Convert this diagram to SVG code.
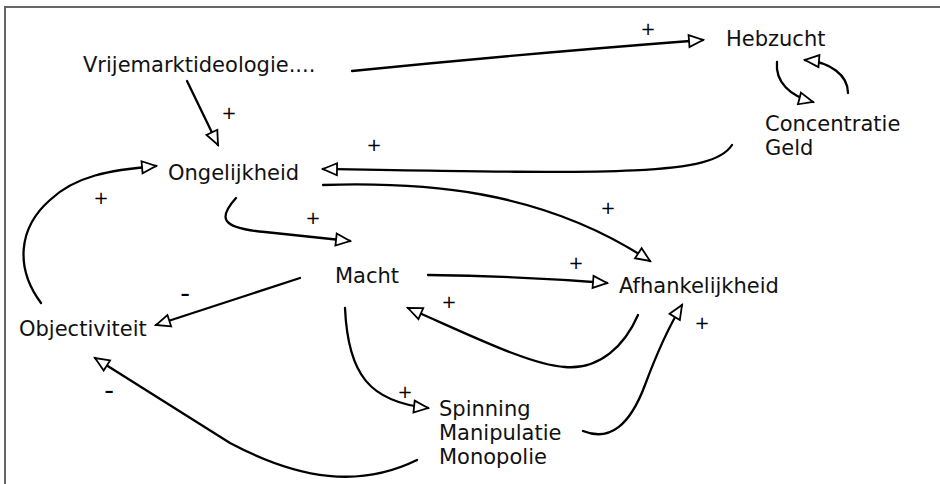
<svg xmlns="http://www.w3.org/2000/svg" width="940" height="484" viewBox="0 0 940 484">
<defs>
<marker id="ah" markerUnits="userSpaceOnUse" markerWidth="18" markerHeight="16" refX="15" refY="7" orient="auto" overflow="visible">
<path d="M1,1 L15,7 L1,13 Z" fill="#fff" stroke="#000" stroke-width="1.8" stroke-linejoin="miter"/>
</marker>
<style>
.lbl{font-family:"DejaVu Sans",Verdana,sans-serif;font-size:21px;fill:#111}
.sg{font-family:"DejaVu Sans",Verdana,sans-serif;font-size:18px;fill:#000;text-anchor:middle}
.mn{font-family:"DejaVu Sans",Verdana,sans-serif;font-size:27px;fill:#000;text-anchor:middle}
.c{fill:none;stroke:#000;stroke-width:2.3;stroke-linecap:round;marker-end:url(#ah)}
</style>
</defs>
<rect width="940" height="484" fill="#fff"/>
<g id="frame" stroke="#666" stroke-width="2" fill="none">
<line x1="4" y1="7" x2="940" y2="7"/>
<line x1="5" y1="7" x2="5" y2="484"/>
</g>
<g id="connectors">
<path class="c" d="M352,71 Q520,54 703,40"/>
<path class="c" d="M187,81 L218,145"/>
<path class="c" d="M732,145 C712,176 620,174 323,169"/>
<path class="c" d="M323,185 C420,182 540,188 650,261"/>
<path class="c" d="M236,198 C218,218 220,228 265,232 L350,241"/>
<path class="c" d="M41,303 C15,268 18,228 50,200 C75,176 110,170 156,166"/>
<path class="c" d="M428,275 Q520,276 607,283"/>
<path class="c" d="M638,315 C625,345 600,370 565,367 C530,365 470,335 408,308"/>
<path class="c" d="M300,278 L156,325"/>
<path class="c" d="M345,308 C348,375 370,402 428,408"/>
<path class="c" d="M417,460 C360,488 300,480 230,443 L95,358"/>
<path class="c" d="M583,431 C610,442 630,425 645,385 C658,350 668,328 682,305"/>
<path class="c" d="M777,62 C775,82 790,96 813,102"/>
<path class="c" d="M848,93 C848,75 830,62 805,60"/>
</g>
<g id="n-vrije"><text class="lbl" x="83" y="72">Vrijemarktideologie....</text></g>
<g id="n-hebzucht"><text class="lbl" x="726" y="46">Hebzucht</text></g>
<g id="n-concentratie"><text class="lbl" x="765" y="131">Concentratie</text><text class="lbl" x="765" y="155">Geld</text></g>
<g id="n-ongelijkheid"><text class="lbl" x="168" y="180">Ongelijkheid</text></g>
<g id="n-macht"><text class="lbl" x="335" y="283">Macht</text></g>
<g id="n-afhankelijkheid"><text class="lbl" x="619" y="293">Afhankelijkheid</text></g>
<g id="n-objectiviteit"><text class="lbl" x="19" y="336">Objectiviteit</text></g>
<g id="n-spinning"><text class="lbl" x="439" y="416">Spinning</text><text class="lbl" x="439" y="440">Manipulatie</text><text class="lbl" x="439" y="464">Monopolie</text></g>
<g id="signs">
<text class="sg" x="648" y="35">+</text>
<text class="sg" x="229" y="119">+</text>
<text class="sg" x="374" y="151">+</text>
<text class="sg" x="101" y="204">+</text>
<text class="sg" x="313" y="224">+</text>
<text class="sg" x="608" y="214">+</text>
<text class="sg" x="576" y="269">+</text>
<text class="sg" x="449" y="308">+</text>
<text class="sg" x="405" y="398">+</text>
<text class="sg" x="702" y="329">+</text>
<text class="mn" x="185" y="302">-</text>
<text class="mn" x="109" y="399">-</text>
</g>
</svg>
